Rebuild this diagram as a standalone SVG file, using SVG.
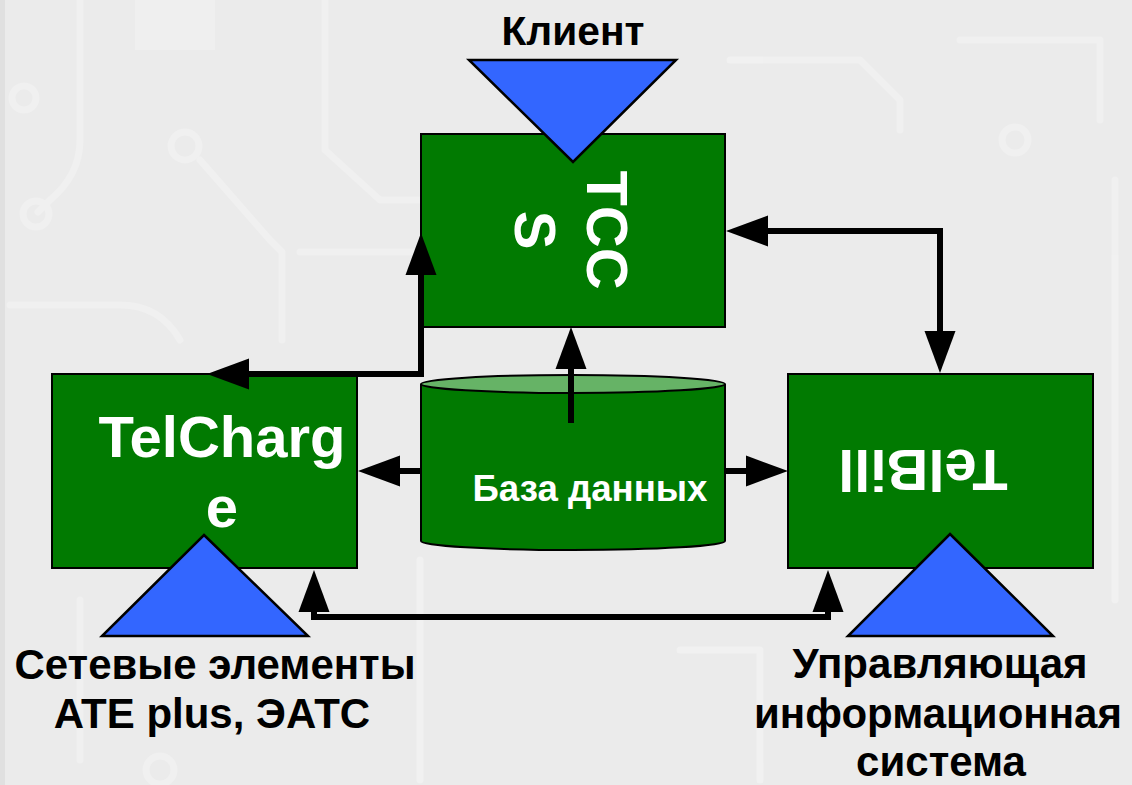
<svg xmlns="http://www.w3.org/2000/svg" width="1132" height="785" viewBox="0 0 1132 785">
<style>
.box{fill:#017a01;stroke:#000;stroke-width:2}
.tri{fill:#3366ff;stroke:#000;stroke-width:2.5;stroke-linejoin:miter}
.wt{fill:#fff;font-family:"Liberation Sans",Arial,sans-serif;font-weight:bold}
.bt{fill:#000;font-family:"Liberation Sans",Arial,sans-serif;font-weight:bold;font-size:42px;text-anchor:middle}
.conn{fill:none;stroke:#000;stroke-width:6;stroke-linejoin:miter}
.trace{fill:none;stroke:#f5f5f5;stroke-width:7;stroke-linecap:round;stroke-linejoin:round}
</style>
<defs>
<marker id="ah" markerUnits="userSpaceOnUse" markerWidth="44" markerHeight="32" viewBox="0 -16 44 32" refX="0" refY="0" orient="auto-start-reverse">
<polygon points="0,-15.5 42,0 0,15.5" fill="#000"/>
</marker>
</defs>
<rect width="1132" height="785" fill="#ebebeb"/>
<rect width="5" height="785" fill="#e0e0e0"/>
<g id="background" opacity="0.55">
<path class="trace" d="M80,0 V140 Q80,175 50,200 L38,212"/>
<circle class="trace" cx="24" cy="98" r="12"/>
<circle class="trace" cx="36" cy="214" r="13"/>
<rect x="135" y="0" width="80" height="50" fill="#f4f4f4"/>
<circle class="trace" cx="185" cy="146" r="14"/>
<path class="trace" d="M200,160 L270,240 L282,252 V340"/>
<path class="trace" d="M300,252 H420"/>
<path class="trace" d="M325,0 V150 L380,200 H420"/>
<path class="trace" d="M10,305 H120 Q160,305 180,340"/>
<path class="trace" d="M730,60 H860 L900,100 V130"/>
<circle class="trace" cx="1015" cy="140" r="13"/>
<path class="trace" d="M960,40 H1100 V120"/>
<path class="trace" d="M1115,180 V600"/>
<path class="trace" d="M80,600 V760"/>
<circle class="trace" cx="160" cy="770" r="14"/>
<path class="trace" d="M420,560 V780"/>
<path class="trace" d="M680,650 H760 V780"/>
<circle class="trace" cx="910" cy="540" r="12"/>
</g>
<g id="tccs">
<rect class="box" x="421" y="134" width="304" height="193"/>
<text class="wt" font-size="58" text-anchor="middle" transform="translate(587,230) rotate(90)"><tspan x="0" y="0">TCC</tspan><tspan x="0" y="72">S</tspan></text>
</g>
<g id="client">
<polygon class="tri" points="469,60 676,60 573,162"/>
<text x="573" y="45" font-family="Liberation Sans, Arial, sans-serif" font-weight="bold" font-size="40" text-anchor="middle" textLength="143" lengthAdjust="spacingAndGlyphs">Клиент</text>
</g>
<g id="telcharge">
<rect class="box" x="52" y="374" width="305" height="194"/>
<text class="wt" font-size="58" text-anchor="middle"><tspan x="222" y="457">TelCharg</tspan><tspan x="222" y="527">e</tspan></text>
</g>
<g id="network">
<polygon class="tri" points="204,535 308,636 102,636"/>
<text class="bt" x="215" y="679">Сетевые элементы</text>
<text class="bt" x="212" y="728">ATE plus, ЭАТС</text>
</g>
<g id="telbill">
<rect class="box" x="788" y="374" width="305" height="194"/>
<text class="wt" font-size="58" text-anchor="middle" transform="translate(923,450) rotate(180)" x="0" y="0">TelBill</text>
</g>
<g id="mis">
<polygon class="tri" points="950,534 1053,636 848,636"/>
<text class="bt" x="940" y="678">Управляющая</text>
<text class="bt" x="938" y="728">информационная</text>
<text class="bt" x="941" y="776">система</text>
</g>
<g id="database">
<path d="M421,384 V541 A152,9 0 0 0 725,541 V384" fill="#017a01" stroke="#000" stroke-width="2"/>
<ellipse cx="573" cy="384" rx="152" ry="9" fill="#66b366" stroke="#000" stroke-width="2"/>
<text class="wt" font-size="36" x="590" y="501" text-anchor="middle" textLength="235" lengthAdjust="spacingAndGlyphs">База данных</text>
</g>
<g id="connectors">
<path class="conn" d="M571,423 V369" marker-end="url(#ah)"/>
<path class="conn" d="M422,471 H400" marker-end="url(#ah)"/>
<path class="conn" d="M724,471 H746" marker-end="url(#ah)"/>
<path class="conn" d="M768,231 H940 V331" marker-start="url(#ah)" marker-end="url(#ah)"/>
<path class="conn" d="M249,374 H421 V275" marker-start="url(#ah)" marker-end="url(#ah)"/>
<path class="conn" d="M314,612 V617 H828 V612" marker-start="url(#ah)" marker-end="url(#ah)"/>
</g>
</svg>
